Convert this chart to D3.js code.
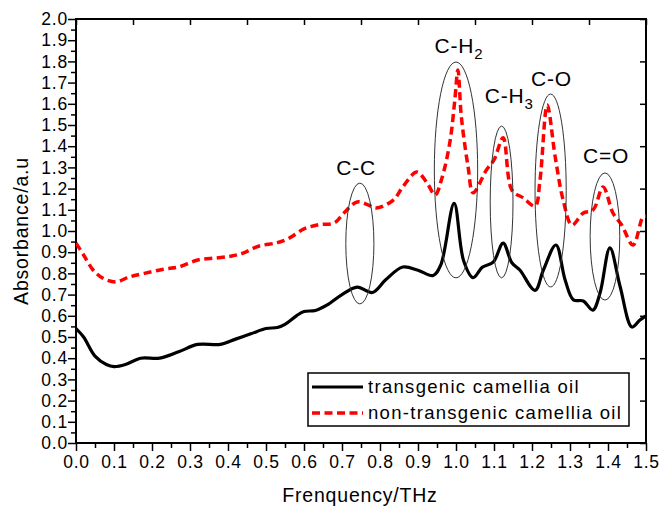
<!DOCTYPE html>
<html>
<head>
<meta charset="utf-8">
<script src="https://cdn.jsdelivr.net/npm/d3@7"></script>
<style>
  body { margin: 0; background: #fff; }
  svg { font-family: "Liberation Sans", Arial, sans-serif; }
</style>
</head>
<body>
<script>
// transgenic camellia oil (black solid)
var freqA = [0.00, 0.02, 0.05, 0.08, 0.10, 0.13, 0.17, 0.22, 0.27, 0.32, 0.38, 0.42, 0.46, 0.50, 0.53, 0.55, 0.58, 0.60, 0.63, 0.66, 0.70, 0.74, 0.78, 0.815, 0.86, 0.90, 0.94, 0.96, 0.995, 1.02, 1.045, 1.07, 1.098, 1.124, 1.147, 1.168, 1.208, 1.23, 1.263, 1.287, 1.309, 1.335, 1.36, 1.379, 1.405, 1.432, 1.463, 1.484, 1.50];
var absA  = [0.54, 0.50, 0.41, 0.37, 0.36, 0.37, 0.40, 0.40, 0.43, 0.465, 0.465, 0.49, 0.515, 0.54, 0.545, 0.56, 0.60, 0.62, 0.625, 0.65, 0.70, 0.735, 0.71, 0.77, 0.83, 0.815, 0.79, 0.84, 1.13, 0.86, 0.78, 0.83, 0.853, 0.943, 0.85, 0.816, 0.72, 0.816, 0.934, 0.77, 0.675, 0.67, 0.627, 0.707, 0.92, 0.737, 0.547, 0.58, 0.60];

// non-transgenic camellia oil (red dashed)
var freqB = [0.00, 0.02, 0.045, 0.07, 0.105, 0.14, 0.18, 0.23, 0.27, 0.32, 0.37, 0.41, 0.44, 0.48, 0.53, 0.56, 0.60, 0.64, 0.68, 0.705, 0.74, 0.77, 0.79, 0.835, 0.86, 0.897, 0.924, 0.945, 0.963, 0.984, 0.997, 1.005, 1.014, 1.032, 1.045, 1.08, 1.10, 1.124, 1.147, 1.177, 1.208, 1.221, 1.24, 1.261, 1.282, 1.305, 1.335, 1.361, 1.387, 1.413, 1.436, 1.466, 1.492, 1.50];
var absB  = [0.943, 0.887, 0.816, 0.778, 0.76, 0.783, 0.80, 0.82, 0.83, 0.863, 0.873, 0.882, 0.896, 0.928, 0.945, 0.965, 1.01, 1.03, 1.038, 1.085, 1.137, 1.122, 1.108, 1.146, 1.208, 1.278, 1.226, 1.17, 1.25, 1.42, 1.62, 1.76, 1.54, 1.30, 1.18, 1.288, 1.335, 1.44, 1.193, 1.156, 1.118, 1.24, 1.594, 1.35, 1.146, 1.028, 1.085, 1.10, 1.208, 1.085, 1.028, 0.934, 1.066, 1.07];

var seriesNames = ["transgenic camellia oil", "non-transgenic camellia oil"];

// band annotations (axis units)
var bandMain = ["C-C", "C-H", "C-H", "C-O", "C=O"];
var bandSub  = ["", "2", "3", "", ""];
var bandCx = [0.747, 1.000, 1.120, 1.249, 1.392];
var bandCy = [0.941, 1.288, 1.137, 1.191, 0.974];
var bandRx = [0.037, 0.057, 0.030, 0.041, 0.039];
var bandRy = [0.285, 0.509, 0.358, 0.455, 0.300];
var labelX = [0.737, 1.008, 1.140, 1.251, 1.395];
var labelY = [1.264, 1.840, 1.604, 1.684, 1.321];

var xTicks = d3.range(0, 1.501, 0.1);
var yTicks = d3.range(0, 2.001, 0.1);

var width = 661, height = 506;
var margin = {top: 19, right: 15, bottom: 63, left: 76};
var plotW = width - margin.left - margin.right,
    plotH = height - margin.top - margin.bottom;

var x = d3.scaleLinear().domain([0, 1.5]).range([0, plotW]);
var y = d3.scaleLinear().domain([0, 2.0]).range([plotH, 0]);

var svg = d3.select("body").append("svg")
    .attr("width", width)
    .attr("height", height);

var g = svg.append("g")
    .attr("transform", "translate(" + margin.left + "," + margin.top + ")");

g.append("clipPath").attr("id", "clip")
  .append("rect").attr("width", plotW).attr("height", plotH);

// minor ticks
g.append("g")
    .attr("transform", "translate(0," + plotH + ")")
    .call(d3.axisBottom(x).tickValues(d3.range(0.05, 1.5, 0.1)).tickSize(5).tickFormat(""))
    .call(function(a) { a.select(".domain").remove(); a.selectAll("line").attr("stroke-width", 1.5); });
g.append("g")
    .call(d3.axisLeft(y).tickValues(d3.range(0.05, 2.0, 0.1)).tickSize(5).tickFormat(""))
    .call(function(a) { a.select(".domain").remove(); a.selectAll("line").attr("stroke-width", 1.5); });

// major ticks + labels
var xAxis = g.append("g")
    .attr("transform", "translate(0," + plotH + ")")
    .call(d3.axisBottom(x).tickValues(xTicks).tickSize(8).tickPadding(5).tickFormat(d3.format(".1f")));
var yAxis = g.append("g")
    .call(d3.axisLeft(y).tickValues(yTicks).tickSize(8).tickPadding(0).tickFormat(d3.format(".1f")));

[xAxis, yAxis].forEach(function(a) {
  a.select(".domain").remove();
  a.selectAll("line").attr("stroke-width", 1.5);
  a.selectAll("text")
    .attr("fill", "#000")
    .style("font-size", "17.5px")
    .style("letter-spacing", "0.8px")
    .style("font-family", "'Liberation Sans', Arial, sans-serif");
});

// top / right inward ticks
g.append("g")
    .call(d3.axisTop(x).tickValues(d3.range(0, 1.501, 0.15)).tickSize(-6).tickFormat(""))
    .call(function(a) { a.select(".domain").remove(); a.selectAll("line").attr("stroke-width", 1.5); });
g.append("g")
    .attr("transform", "translate(" + plotW + ",0)")
    .call(d3.axisRight(y).tickValues(d3.range(0, 2.001, 0.2)).tickSize(-6).tickFormat(""))
    .call(function(a) { a.select(".domain").remove(); a.selectAll("line").attr("stroke-width", 1.5); });

// frame
g.append("rect")
    .attr("width", plotW)
    .attr("height", plotH)
    .attr("fill", "none")
    .attr("stroke", "#000")
    .attr("stroke-width", 2);

// curves
var line = d3.line()
    .x(function(d) { return x(d[0]); })
    .y(function(d) { return y(d[1]); })
    .curve(d3.curveCatmullRom.alpha(0.5));

var dataA = freqA.map(function(f, i) { return [f, absA[i]]; });
var dataB = freqB.map(function(f, i) { return [f, absB[i]]; });

var curves = g.append("g").attr("clip-path", "url(#clip)");
curves.append("path")
    .datum(dataB)
    .attr("d", line)
    .attr("fill", "none")
    .attr("stroke", "#ff0000")
    .attr("stroke-width", 3.5)
    .attr("stroke-dasharray", "8,4.5");
curves.append("path")
    .datum(dataA)
    .attr("d", line)
    .attr("fill", "none")
    .attr("stroke", "#000")
    .attr("stroke-width", 3.2);

// band ellipses
g.selectAll(".band")
    .data(bandMain)
    .enter().append("ellipse")
    .attr("class", "band")
    .attr("cx", function(d, i) { return x(bandCx[i]); })
    .attr("cy", function(d, i) { return y(bandCy[i]); })
    .attr("rx", function(d, i) { return x(bandRx[i]) - x(0); })
    .attr("ry", function(d, i) { return y(0) - y(bandRy[i]); })
    .attr("fill", "none")
    .attr("stroke", "#333")
    .attr("stroke-width", 1);

var labels = g.selectAll(".bandLabel")
    .data(bandMain)
    .enter().append("text")
    .attr("class", "bandLabel")
    .attr("x", function(d, i) { return x(labelX[i]); })
    .attr("y", function(d, i) { return y(labelY[i]); })
    .attr("text-anchor", "middle")
    .style("font-size", "21px")
    .style("letter-spacing", "0.8px");
labels.append("tspan").text(function(d) { return d; });
labels.append("tspan")
    .attr("dy", 6)
    .style("font-size", "15px")
    .text(function(d, i) { return bandSub[i]; });

// legend
var legend = g.append("g")
    .attr("transform", "translate(" + (308 - margin.left) + "," + (373 - margin.top) + ")");
legend.append("rect")
    .attr("width", 321)
    .attr("height", 53)
    .attr("fill", "#fff")
    .attr("stroke", "#000")
    .attr("stroke-width", 1.5);
var items = legend.selectAll(".item")
    .data(seriesNames)
    .enter().append("g")
    .attr("class", "item")
    .attr("transform", function(d, i) { return "translate(0," + (14 + i * 26) + ")"; });
items.append("line")
    .attr("x1", 4).attr("x2", 55)
    .attr("stroke", function(d, i) { return i ? "#ff0000" : "#000"; })
    .attr("stroke-width", function(d, i) { return i ? 3.5 : 3.2; })
    .attr("stroke-dasharray", function(d, i) { return i ? "8,4.5" : null; });
items.append("text")
    .attr("x", 60)
    .attr("dy", "0.35em")
    .style("font-size", "18.5px")
    .style("letter-spacing", "1.3px")
    .text(function(d) { return d; });

// axis titles
svg.append("text")
    .attr("x", margin.left + plotW / 2 - 1)
    .attr("y", 502)
    .attr("text-anchor", "middle")
    .style("font-size", "19.5px")
    .style("letter-spacing", "0.8px")
    .text("Frenquency/THz");

svg.append("text")
    .attr("transform", "translate(28," + 231 + ") rotate(-90)")
    .attr("text-anchor", "middle")
    .style("font-size", "19.5px")
    .style("letter-spacing", "0.8px")
    .text("Absorbance/a.u");
</script>
</body>
</html>
